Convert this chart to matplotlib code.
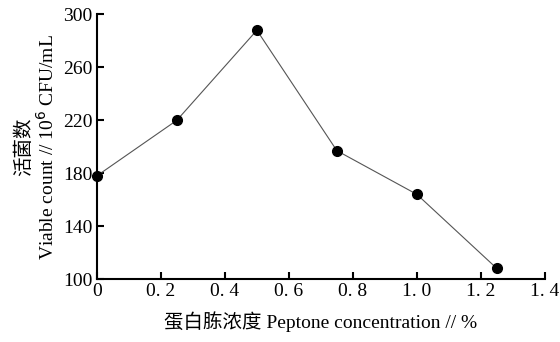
import matplotlib.pyplot as plt

plt.rcParams['font.family'] = ['Liberation Serif', 'Noto Sans CJK SC']

# data
concentration = [0, 0.25, 0.5, 0.75, 1.0, 1.25]
viable_count = [178, 220, 288, 197, 164, 108]

x_ticks = [0, 0.2, 0.4, 0.6, 0.8, 1.0, 1.2, 1.4]
x_labels = ["0", "0. 2", "0. 4", "0. 6", "0. 8", "1. 0", "1. 2", "1. 4"]
y_ticks = [100, 140, 180, 220, 260, 300]

fig = plt.figure(figsize=(5.6, 3.42), dpi=100)
ax = fig.add_axes([0.173, 0.184, 0.8, 0.774])

ax.plot(concentration, viable_count, color="#555555", linewidth=0.8,
        marker="o", markersize=7, markerfacecolor="black",
        markeredgecolor="black", clip_on=False, zorder=3)

ax.set_xlim(0, 1.4)
ax.set_ylim(100, 300)
ax.set_xticks(x_ticks)
ax.set_xticklabels(x_labels)
ax.set_yticks(y_ticks)

ax.spines["top"].set_visible(False)
ax.spines["right"].set_visible(False)
ax.spines["left"].set_linewidth(1.5)
ax.spines["bottom"].set_linewidth(1.5)
ax.tick_params(direction="in", length=5, width=1.5, labelsize=14)
ax.tick_params(axis="x", pad=3)
ax.tick_params(axis="y", pad=3)

ax.set_xlabel("蛋白胨浓度 Peptone concentration // %", fontsize=14, labelpad=8)
ax.set_ylabel("活菌数\nViable count // 10$^6$ CFU/mL", fontsize=14,
              labelpad=4, linespacing=1.15)

fig.savefig("out.png", dpi=100)
